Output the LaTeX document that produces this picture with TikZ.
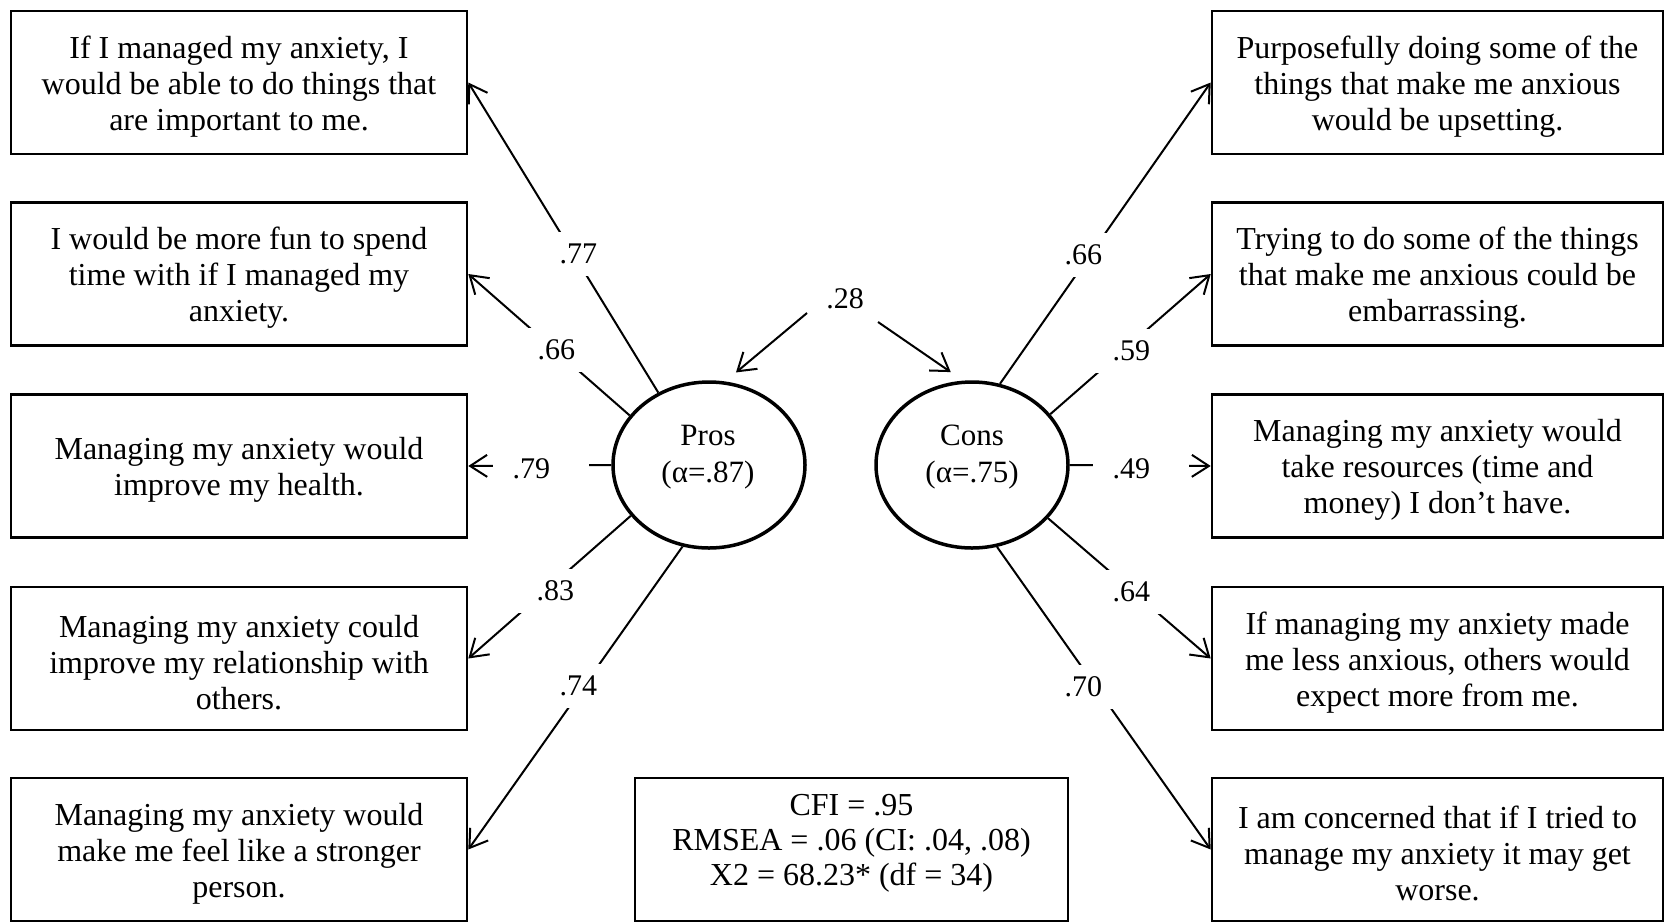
\documentclass[tikz,border=0pt]{standalone}
\usepackage{fontspec}
\setmainfont{Liberation Serif}
\usetikzlibrary{arrows.meta,shapes.geometric}
\newcommand\firstlinestrut{\rule{0pt}{30pt}}
\newcommand\lastlinestrut{\rule[-19pt]{0pt}{19pt}}
\begin{document}
\begin{tikzpicture}[x=1pt,y=-1pt,
  item/.style={draw, line width=2.6pt, minimum height=143pt, align=center, inner sep=0pt, font=\fontsize{32}{36}\selectfont},
  litem/.style={item, minimum width=456pt},
  ritem/.style={item, minimum width=451pt},
  fitbox/.style={draw, line width=2pt, minimum width=433pt, minimum height=143pt, align=center, inner sep=0pt, font=\fontsize{32}{35}\selectfont},
  lat/.style={draw, ellipse, line width=3.5pt, minimum width=192pt, minimum height=166pt, inner sep=0pt},
  lattext/.style={align=center, inner sep=0pt, font=\fontsize{31}{37}\selectfont},
  conn/.style={line width=2pt, -{Straight Barb[length=17pt,width=22pt]}},
  lab/.style={fill=white, text width=56pt, align=left, inner xsep=20pt, inner ysep=12pt, font=\fontsize{30}{30}\selectfont},
]
\path[use as bounding box] (0,0) rectangle (1665,922);

% indicator boxes
\node[litem] (L1) at (239,82.5) {\firstlinestrut If I managed my anxiety, I\\would be able to do things that\\are important to me.};
\node[litem] (L2) at (239,274) {\firstlinestrut I would be more fun to spend\\time with if I managed my\\anxiety.};
\node[litem] (L3) at (239,466) {\firstlinestrut Managing my anxiety would\\improve my health.};
\node[litem] (L4) at (239,658.5) {\firstlinestrut Managing my anxiety could\\improve my relationship with\\others.};
\node[litem] (L5) at (239,849.5) {\firstlinestrut Managing my anxiety would\\make me feel like a stronger\\person.};

\node[ritem] (R1) at (1437.5,82.5) {\firstlinestrut Purposefully doing some of the\\things that make me anxious\\would be upsetting.};
\node[ritem] (R2) at (1437.5,274) {\firstlinestrut Trying to do some of the things\\that make me anxious could be\\embarrassing.};
\node[ritem] (R3) at (1437.5,466) {\firstlinestrut Managing my anxiety would\\take resources (time and\\money) I don't have.};
\node[ritem] (R4) at (1437.5,658.5) {\firstlinestrut If managing my anxiety made\\me less anxious, others would\\expect more from me.};
\node[ritem] (R5) at (1437.5,849.5) {\firstlinestrut I am concerned that if I tried to\\manage my anxiety it may get\\worse.};

% fit box
\node[fitbox] (fit) at (851.5,849.5) {CFI = .95\\RMSEA = .06 (CI: .04, .08)\\X2 = 68.23* (df = 34)\lastlinestrut};

% latent variables
\node[lat] (pros) at (709,465) {};
\node[lat] (cons) at (972,465) {};
\node[lattext] (prosT) at (708,457) {Pros\\(α=.87)};
\node[lattext] (consT) at (972,457) {Cons\\(α=.75)};

% loadings
\draw[conn] (pros.125) -- (L1.east);
\draw[conn] (pros.148) -- (L2.east);
\draw[conn] (pros.180) -- (L3.east);
\draw[conn] (pros.213) -- (L4.east);
\draw[conn] (pros.252) -- (L5.east);
\draw[conn] (cons.71) -- (R1.west);
\draw[conn] (cons.33) -- (R2.west);
\draw[conn] (cons.0) -- (R3.west);
\draw[conn] (cons.-35) -- (R4.west);
\draw[conn] (cons.-73) -- (R5.west);

% covariance
\coordinate (c1) at (807,313);
\coordinate (c2) at (878,322);
\node[font=\fontsize{30}{30}\selectfont, inner sep=0pt] (cov) at (845,299) {.28};
\draw[conn, shorten >=14pt] (c1) -- (pros.79);
\draw[conn, shorten >=15pt] (c2) -- (cons.96);

% loading labels
\node[lab] (l77) at (587.5,254) {.77};
\node[lab] (l66) at (565.5,350) {.66};
\node[lab] (l79) at (540.5,469) {.79};
\node[lab] (l83) at (564.5,591) {.83};
\node[lab] (l74) at (587.5,686) {.74};
\node[lab] (r66) at (1092.5,255) {.66};
\node[lab] (r59) at (1140.5,351) {.59};
\node[lab] (r49) at (1140.5,469) {.49};
\node[lab] (r64) at (1140.5,592) {.64};
\node[lab] (r70) at (1092.5,687) {.70};
\end{tikzpicture}
\end{document}
